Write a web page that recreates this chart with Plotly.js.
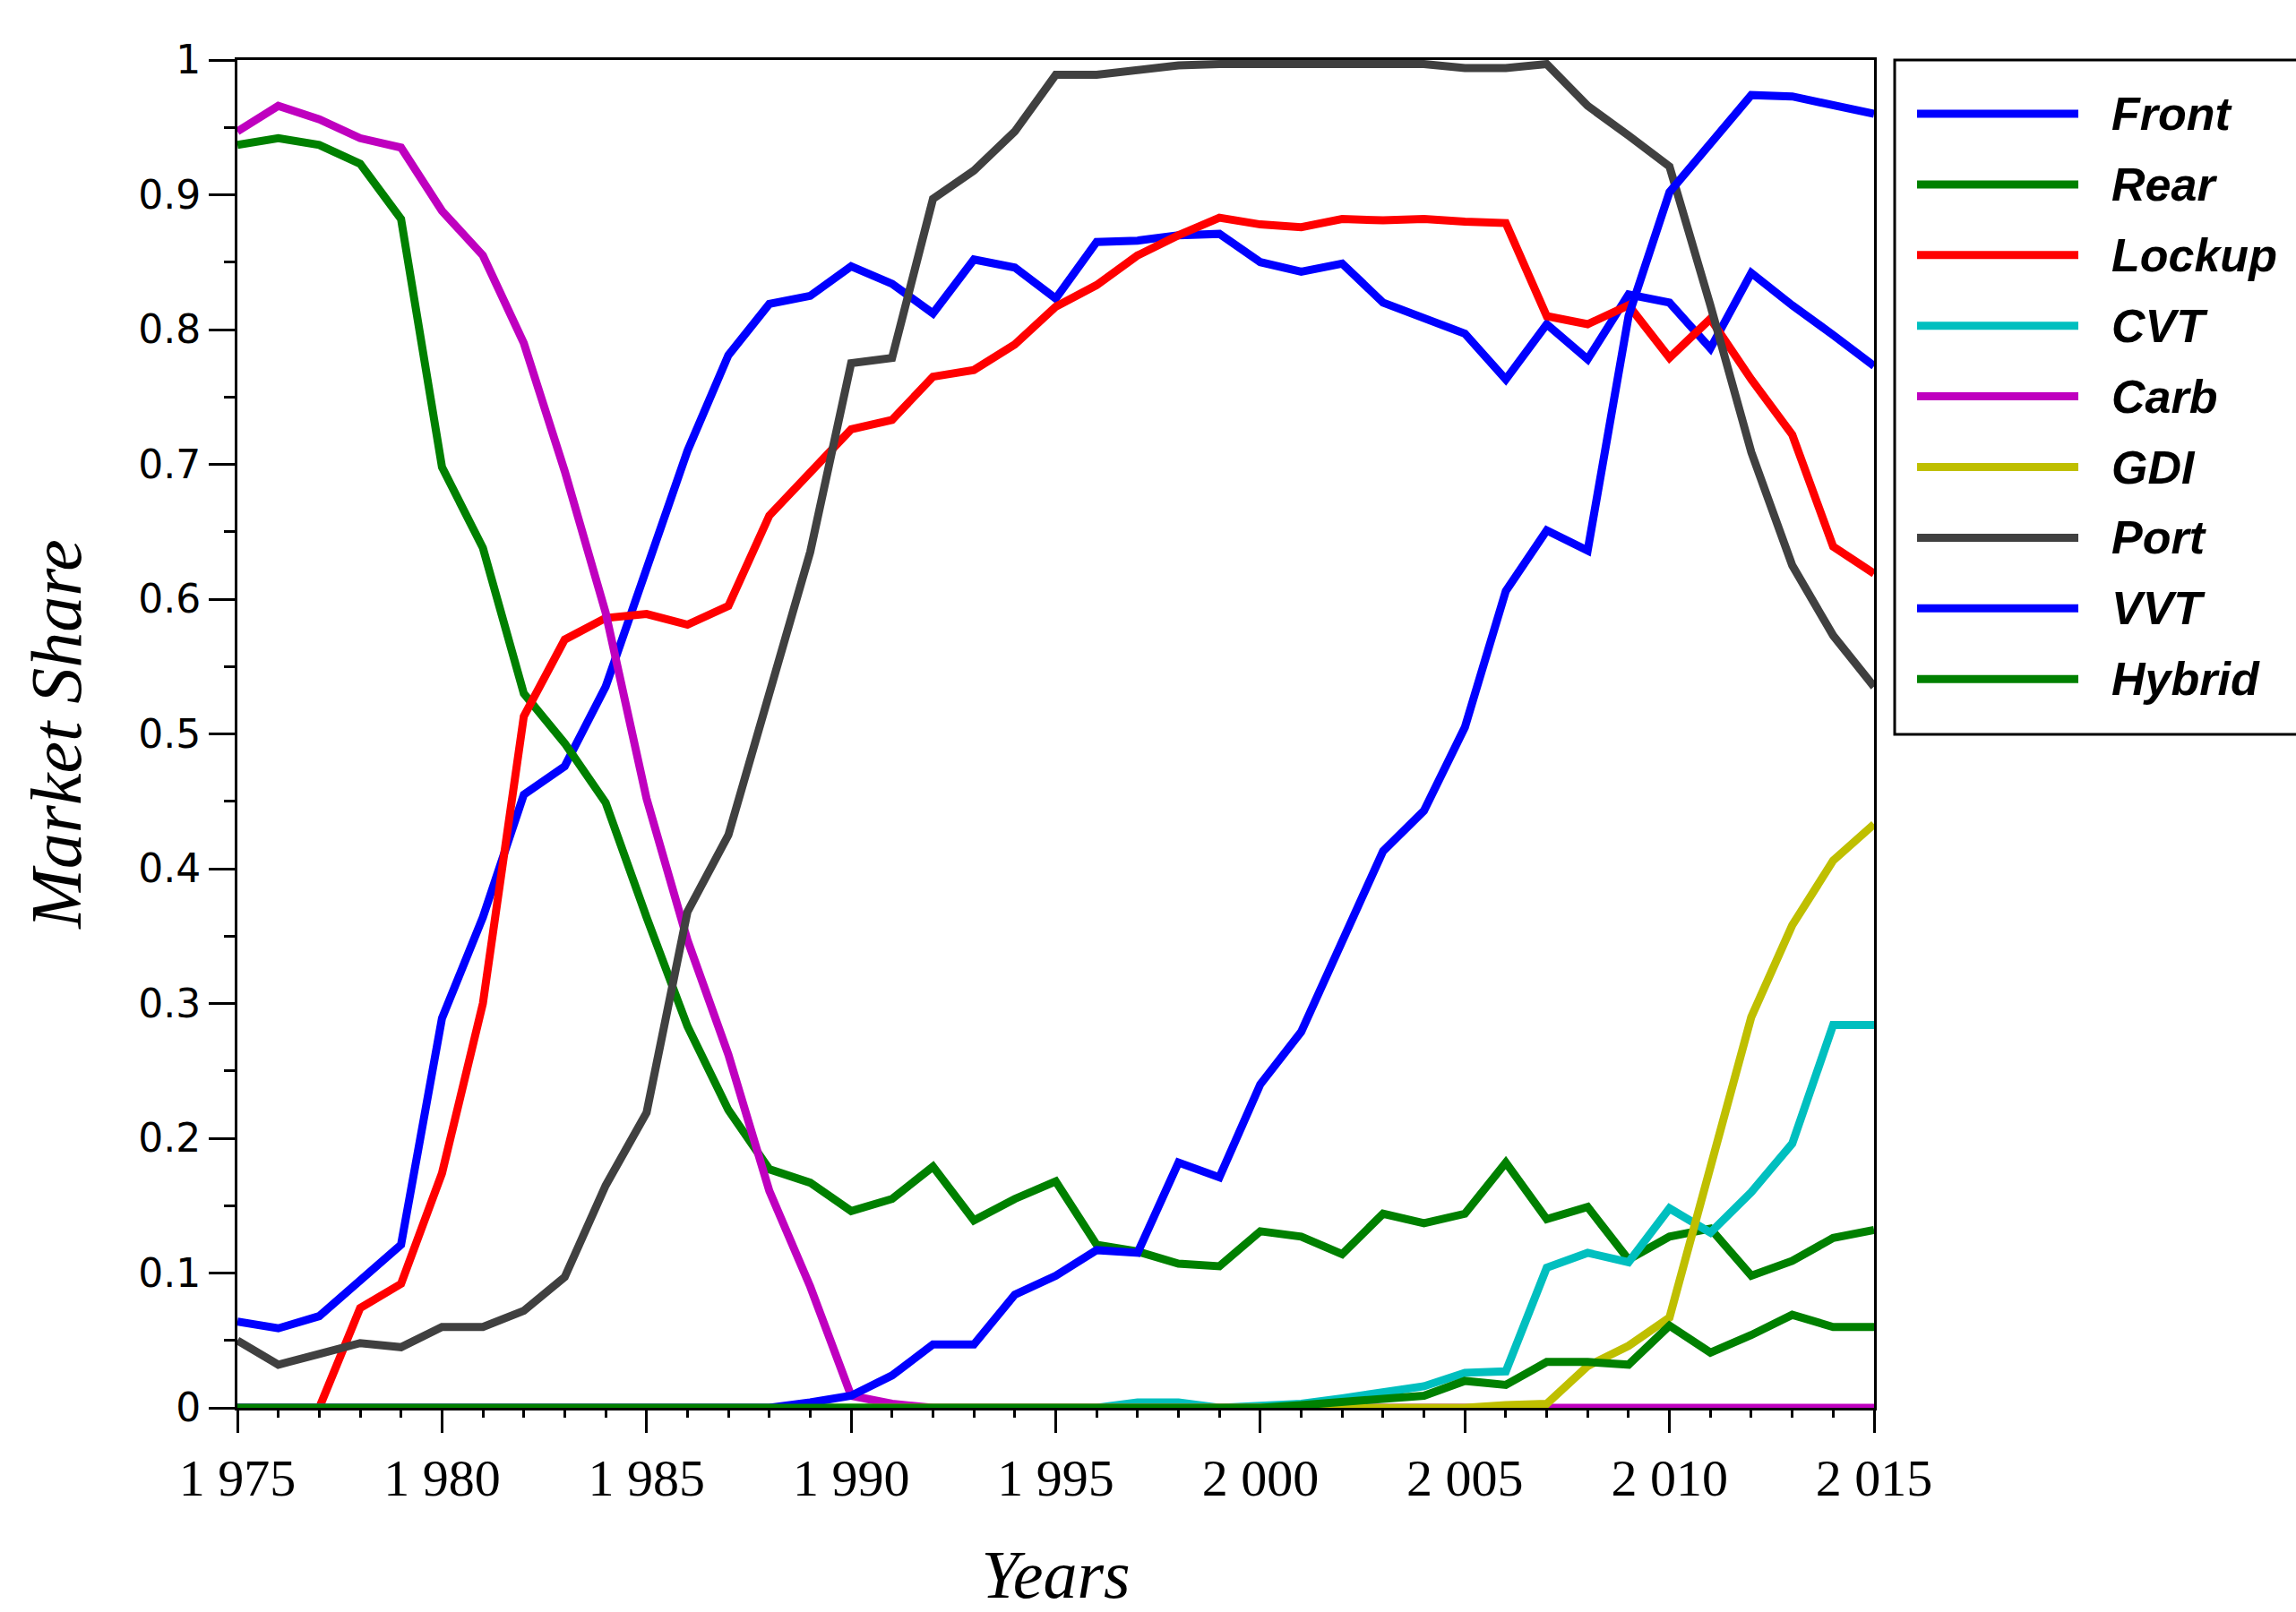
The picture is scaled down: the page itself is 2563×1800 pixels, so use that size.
<!DOCTYPE html>
<html>
<head>
<meta charset="utf-8">
<script src="https://cdn.plot.ly/plotly-3.0.1.min.js"></script>
<style>
  html, body { margin: 0; padding: 0; background: #ffffff; }
  #chart { width: 2563px; height: 1800px; }
</style>
</head>
<body>
<div id="chart"></div>
<script>
// ---- Data ----
const years = [1975,1976,1977,1978,1979,1980,1981,1982,1983,1984,
               1985,1986,1987,1988,1989,1990,1991,1992,1993,1994,
               1995,1996,1997,1998,1999,2000,2001,2002,2003,2004,
               2005,2006,2007,2008,2009,2010,2011,2012,2013,2014,2015];

const front = [0.064,0.059,0.068,0.094,0.121,0.289,0.364,0.455,0.476,0.535,
               0.624,0.710,0.781,0.819,0.825,0.847,0.834,0.812,0.852,0.846,
               0.823,0.865,0.866,0.870,0.871,0.850,0.843,0.849,0.820,0.809,
               0.797,0.763,0.804,0.778,0.826,0.820,0.786,0.842,0.818,0.796,0.773];

const rear = [0.937,0.942,0.937,0.923,0.882,0.698,0.638,0.530,0.493,0.449,
              0.364,0.283,0.221,0.177,0.167,0.146,0.155,0.179,0.139,0.155,
              0.168,0.121,0.116,0.107,0.105,0.131,0.127,0.114,0.144,0.137,
              0.144,0.182,0.140,0.149,0.110,0.127,0.133,0.098,0.109,0.126,0.132];

const lockup = [0,0,0,0.074,0.092,0.174,0.300,0.513,0.570,0.586,
                0.589,0.581,0.595,0.662,0.693,0.726,0.733,0.765,0.770,0.789,
                0.817,0.833,0.855,0.870,0.883,0.878,0.876,0.882,0.881,0.882,
                0.880,0.879,0.810,0.804,0.818,0.779,0.808,0.763,0.722,0.639,0.619];

const cvt = [0,0,0,0,0,0,0,0,0,0,
             0,0,0,0,0,0,0,0,0,0,
             0,0,0.004,0.004,0,0.001,0.003,0.007,0.012,0.016,
             0.026,0.027,0.104,0.115,0.108,0.148,0.130,0.160,0.196,0.284,0.284];

const carb = [0.947,0.966,0.956,0.942,0.935,0.888,0.855,0.790,0.695,0.590,
              0.452,0.347,0.262,0.161,0.090,0.009,0.003,0,0,0,
              0,0,0,0,0,0,0,0,0,0,
              0,0,0,0,0,0,0,0,0,0,0];

const gdi = [0,0,0,0,0,0,0,0,0,0,
             0,0,0,0,0,0,0,0,0,0,
             0,0,0,0,0,0,0,0,0,0,
             0,0.002,0.003,0.031,0.046,0.067,0.177,0.290,0.358,0.406,0.433];

const port = [0.050,0.032,0.040,0.048,0.045,0.060,0.060,0.072,0.097,0.165,
              0.219,0.368,0.425,0.530,0.635,0.775,0.779,0.897,0.918,0.947,
              0.989,0.989,0.993,0.996,0.997,0.997,0.997,0.997,0.997,0.997,
              0.994,0.994,0.997,0.966,0.944,0.921,0.818,0.709,0.625,0.573,0.535];

const vvt = [0,0,0,0,0,0,0,0,0,0,
             0,0,0,0,0.004,0.009,0.024,0.047,0.047,0.084,
             0.098,0.117,0.115,0.182,0.171,0.240,0.279,0.345,0.413,0.443,
             0.505,0.606,0.651,0.636,0.810,0.902,0.937,0.974,0.973,0.966,0.960];

const hybrid = [0,0,0,0,0,0,0,0,0,0,
                0,0,0,0,0,0,0,0,0,0,
                0,0,0,0,0,0,0.002,0.004,0.007,0.009,
                0.020,0.017,0.034,0.034,0.032,0.061,0.041,0.054,0.069,0.060,0.060];

const seriesNames = ['Front','Rear','Lockup','CVT','Carb','GDI','Port','VVT','Hybrid'];
const seriesValues = [front, rear, lockup, cvt, carb, gdi, port, vvt, hybrid];
const seriesColors = ['#0000ff','#008000','#ff0000','#00bfbf','#bf00bf','#bfbf00','#404040','#0000ff','#008000'];

const xTitle = 'Years';
const yTitle = 'Market Share';

// ---- Geometry of the figure (pixels) ----
const W = 2563, H = 1800;
const plotL = 265, plotR = 2092, plotT = 67, plotB = 1572;
const pw = plotR - plotL, ph = plotB - plotT;
const px = X => (X - plotL) / pw;           // pixel -> paper x
const py = Y => (plotB - Y) / ph;           // pixel -> paper y

const traces = seriesNames.map((name, i) => ({
  type: 'scatter',
  mode: 'lines',
  name: name,
  x: years,
  y: seriesValues[i],
  line: { color: seriesColors[i], width: 9 },
  showlegend: false,
  hoverinfo: 'x+y+name'
}));

// ---- Custom legend (long line samples as in the reference) ----
const shapes = [{
  type: 'rect', xref: 'paper', yref: 'paper',
  x0: px(2115), x1: px(2585), y0: py(820), y1: py(67),
  line: { color: '#000000', width: 3 }, fillcolor: 'rgba(0,0,0,0)', layer: 'above'
}];
const annotations = [];
const rowTop = 127, rowStep = 78.9;
seriesNames.forEach((name, i) => {
  const yy = py(rowTop + i * rowStep);
  shapes.push({
    type: 'line', xref: 'paper', yref: 'paper',
    x0: px(2140), x1: px(2320), y0: yy, y1: yy,
    line: { color: seriesColors[i], width: 9 }
  });
  annotations.push({
    xref: 'paper', yref: 'paper', x: px(2355), y: yy,
    xanchor: 'left', yanchor: 'middle', showarrow: false,
    text: '<b><i>' + name + '</i></b>',
    font: { family: 'Liberation Sans, Arial, sans-serif', size: 52, color: '#000000' }
  });
});

const layout = {
  width: W, height: H,
  paper_bgcolor: '#ffffff', plot_bgcolor: '#ffffff',
  margin: { l: plotL, r: W - plotR, t: plotT, b: H - plotB, pad: 0 },
  showlegend: false,
  separators: '. ',
  xaxis: {
    range: [1975, 2015],
    tickmode: 'linear', tick0: 1975, dtick: 5,
    separatethousands: true,
    ticks: 'outside', ticklen: 25, tickwidth: 3, tickcolor: '#000000',
    minor: { dtick: 1, tick0: 1975, ticks: 'outside', ticklen: 8, tickwidth: 3, tickcolor: '#000000', showgrid: false },
    showline: true, linecolor: '#000000', linewidth: 3, mirror: true,
    showgrid: false, zeroline: false,
    tickfont: { family: 'Liberation Serif, Times New Roman, serif', size: 58, color: '#000000' },
    title: { text: '<i>' + xTitle + '</i>', standoff: 58,
             font: { family: 'Liberation Serif, Times New Roman, serif', size: 76, color: '#000000' } },
    automargin: false
  },
  yaxis: {
    range: [0, 1],
    tickmode: 'linear', tick0: 0, dtick: 0.1,
    ticks: 'outside', ticklen: 29, tickwidth: 3, tickcolor: '#000000',
    minor: { dtick: 0.05, tick0: 0, ticks: 'outside', ticklen: 12, tickwidth: 3, tickcolor: '#000000', showgrid: false },
    showline: true, linecolor: '#000000', linewidth: 3, mirror: true,
    showgrid: false, zeroline: false,
    tickfont: { family: 'DejaVu Sans, sans-serif', size: 44, color: '#000000' },
    title: { text: '<i>' + yTitle + '</i>', standoff: 38,
             font: { family: 'Liberation Serif, Times New Roman, serif', size: 80, color: '#000000' } },
    automargin: false
  },
  shapes: shapes,
  annotations: annotations
};

Plotly.newPlot('chart', traces, layout, { staticPlot: true, displayModeBar: false });
</script>
</body>
</html>
